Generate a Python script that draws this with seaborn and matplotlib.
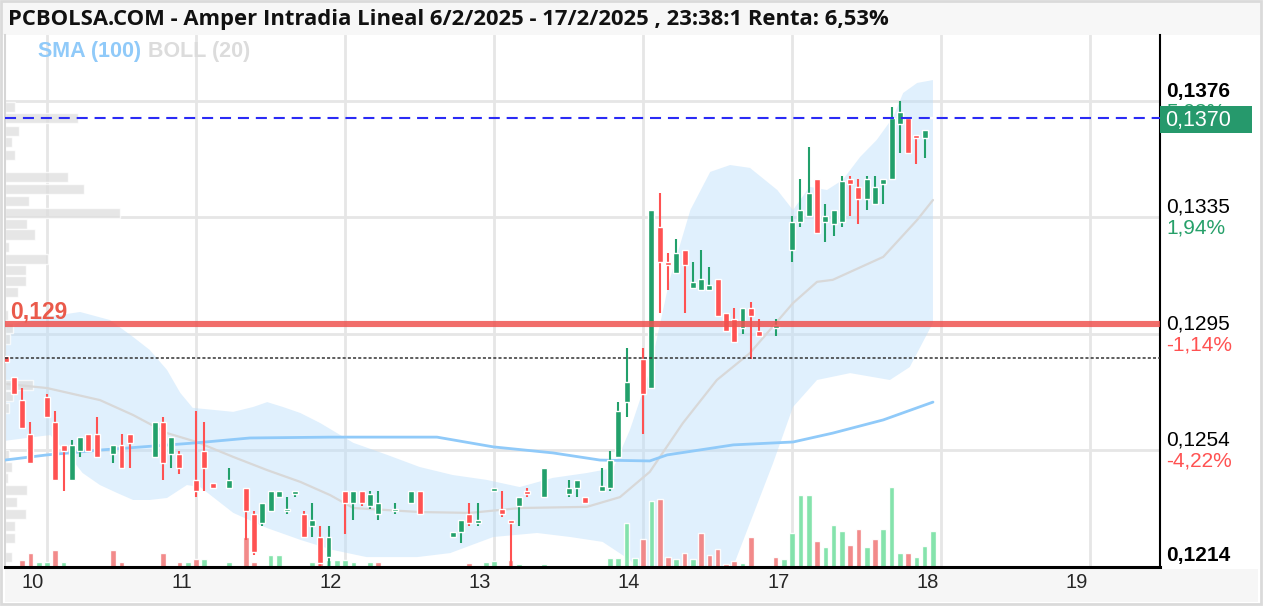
import numpy as np
import matplotlib
matplotlib.use("Agg")
import matplotlib.pyplot as plt
import matplotlib.transforms as mtransforms
from matplotlib.patches import Rectangle
import seaborn as sns

# ------------------------------------------------------------------ data
TITLE = "PCBOLSA.COM - Amper Intradia Lineal 6/2/2025 - 17/2/2025 , 23:38:1 Renta: 6,53%"
day_labels = ["10", "11", "12", "13", "14", "17", "18", "19"]
day_start_slot = [0, 18, 36, 54, 72, 90, 108, 126]   # 18 half-hour slots per session

# candles (slot index, OHLC)
c_slot = [-5, -4, -3, -2, 0, 1, 2, 3, 4, 5, 6, 8, 9, 10, 13, 14, 15, 16, 18, 19, 20, 22,
          24, 25, 26, 27, 28, 29, 30, 31, 32, 33, 34, 36, 37, 38, 39, 40, 42, 44, 45, 49,
          50, 51, 52, 54, 55, 56, 57, 58, 60, 63, 64, 65, 67, 68, 69, 70, 72, 73, 74, 75,
          76, 77, 78, 79, 80, 81, 82, 83, 84, 85, 86, 88, 90, 91, 92, 93, 94, 95, 96, 97,
          98, 99, 100, 101, 102, 103, 104, 105, 106, 107]
c_open = [.1287, .1280, .1272, .1260, .1273, .1264, .1256, .1244, .1254, .1260, .1260, .1253,
          .1256, .1260, .1252, .1264, .1253, .1253, .1244, .1254, .1243, .1241, .1241, .1232,
          .1229, .1233, .1238, .1233, .1239, .1232, .1228, .1224, .1217, .1240, .1236, .1240,
          .1235, .1232, .1233, .1236, .1240, .1224, .1226, .1232, .1229, .1240, .1234, .1230,
          .1235, .1240, .1238, .1239, .1241, .1238, .1240, .1241, .1252, .1271, .1286, .1276,
          .1332, .1320, .1316, .1324, .1311, .1310, .1310, .1314, .1302, .1300, .1297, .1304,
          .1296, .1297, .1324, .1334, .1336, .1349, .1334, .1333, .1334, .1349, .1346, .1342,
          .1340, .1347, .1349, .1368, .1370, .1364, .1363, .1370]
c_high = [.1287, .1280, .1276, .1264, .1274, .1268, .1256, .1258, .1259, .1260, .1266, .1256,
          .1260, .1260, .1264, .1266, .1259, .1254, .1268, .1264, .1243, .1248, .1241, .1233,
          .1236, .1240, .1240, .1238, .1240, .1233, .1236, .1228, .1228, .1240, .1240, .1240,
          .1240, .1240, .1236, .1240, .1240, .1226, .1230, .1236, .1236, .1241, .1240, .1230,
          .1238, .1241, .1248, .1244, .1244, .1238, .1248, .1254, .1271, .1290, .1290, .1338,
          .1344, .1323, .1328, .1324, .1320, .1324, .1318, .1314, .1302, .1304, .1304, .1306,
          .1300, .1300, .1336, .1349, .1360, .1349, .1340, .1338, .1350, .1350, .1349, .1350,
          .1350, .1349, .1374, .1376, .1370, .1364, .1366, .1370]
c_low = [.1285, .1274, .1262, .1250, .1266, .1244, .1240, .1244, .1252, .1254, .1252, .1250,
         .1248, .1248, .1252, .1244, .1248, .1246, .1238, .1240, .1241, .1241, .1223, .1218,
         .1228, .1233, .1238, .1232, .1238, .1224, .1224, .1214, .1214, .1225, .1230, .1235,
         .1234, .1230, .1232, .1236, .1232, .1224, .1222, .1228, .1228, .1240, .1231, .1214,
         .1228, .1238, .1238, .1238, .1238, .1236, .1240, .1240, .1252, .1266, .1260, .1276,
         .1302, .1310, .1316, .1302, .1311, .1310, .1310, .1301, .1296, .1292, .1295, .1286,
         .1294, .1294, .1320, .1332, .1336, .1330, .1327, .1329, .1332, .1336, .1333, .1338,
         .1340, .1340, .1349, .1358, .1358, .1354, .1356, .1370]
c_close = [.1285, .1274, .1262, .1250, .1266, .1244, .1254, .1256, .1259, .1254, .1252, .1256,
           .1248, .1257, .1264, .1250, .1259, .1248, .1240, .1248, .1241, .1244, .1233, .1219,
           .1236, .1240, .1240, .1234, .1240, .1224, .1230, .1215, .1224, .1236, .1240, .1236,
           .1239, .1236, .1234, .1240, .1232, .1226, .1230, .1229, .1230, .1241, .1232, .1229,
           .1238, .1239, .1248, .1241, .1244, .1236, .1242, .1251, .1268, .1278, .1274, .1338,
           .1320, .1319, .1323, .1319, .1313, .1314, .1312, .1301, .1296, .1292, .1304, .1301,
           .1294, .1298, .1334, .1338, .1344, .1330, .1336, .1338, .1348, .1347, .1342, .1349,
           .1346, .1349, .1370, .1372, .1358, .1363, .1366, .1370]

# volume (relative units) per slot, 1 = up bar, 0 = down bar
v_slot = [-3, -2, -1, 0, 1, 2, 8, 9, 14, 16, 17, 18, 19, 22, 24, 25, 27, 28, 32, 33, 34, 35,
          36, 37, 39, 40, 51, 53, 54, 56, 57, 60, 68, 69, 70, 71, 72, 73, 74, 75, 76, 77, 78,
          79, 80, 81, 82, 83, 84, 85, 88, 89, 90, 91, 92, 93, 94, 95, 96, 97, 98, 99, 100,
          101, 102, 103, 104, 105, 106, 107]
v_val = [7, 14, 5, 5, 17, 5, 17, 5, 14, 5, 5, 8, 8, 5, 30, 5, 12, 12, 5, 5, 7, 7,
         7, 5, 5, 5, 4, 5, 6, 7, 3, 3, 9, 9, 44, 9, 28, 66, 68, 10, 8, 14, 8,
         34, 12, 18, 3, 6, 4, 30, 10, 8, 34, 72, 72, 26, 20, 42, 36, 22, 38, 20, 28,
         38, 80, 14, 14, 10, 21, 36]
v_up = [0, 0, 1, 1, 0, 1, 0, 0, 0, 0, 1, 0, 1, 1, 0, 0, 1, 1, 1, 0, 1, 1,
        1, 1, 1, 0, 0, 1, 1, 0, 1, 1, 1, 1, 1, 1, 0, 1, 0, 0, 1, 0, 1,
        0, 0, 0, 0, 0, 1, 0, 0, 1, 1, 1, 1, 0, 1, 1, 1, 0, 0, 1, 0,
        1, 1, 1, 0, 1, 1, 1]

# SMA(100) read points
sma_x = [-5.1, 0, 6.4, 18, 24.5, 34.2, 47.1, 53.9, 61.1, 66.8, 72.8, 74.9, 82.9, 90.1, 94.9, 101, 107]
sma_y = [.12509, .12527, .12544, .12569, .12586, .12589, .12589, .12555, .12534, .12509, .12506,
         .12527, .12562, .12572, .12603, .12649, .12711]

# Bollinger(20) middle / upper / lower read points
bm_x = [-4.8, 0, 6.4, 10.4, 14.5, 18.1, 22.5, 26.6, 30.6, 34.2, 37, 45, 51.1, 57.1, 65.2, 69.2,
        72.8, 76.8, 80.9, 84.9, 90.1, 93, 94.9, 101, 105.1, 107]
bm_y = [.12774, .12760, .12718, .12666, .12603, .12572, .12520, .12474, .12433, .12387, .12342,
        .12328, .12325, .12342, .12346, .12380, .12468, .12638, .12788, .12882, .13056, .13130,
        .13137, .13217, .13346, .13415]
bu_x = [-5.1, -0.8, 4, 7.6, 10.4, 12.4, 14.5, 16.1, 17.6, 22.5, 24.9, 26.6, 28.5, 30.6, 33, 37,
        41.1, 45, 49, 53.1, 57.1, 61.1, 65.2, 68.4, 70.4, 72.8, 75.2, 77.7, 80.1, 82.5, 84.9,
        88.2, 90.1, 92.1, 94.2, 96.1, 98.2, 100.2, 102.2, 103.4, 105.1, 107]
bu_y = [.12976, .13004, .13025, .12997, .12938, .12893, .12823, .12743, .12691, .12677, .12694,
        .12711, .12694, .12673, .12638, .12569, .12527, .12485, .12457, .12440, .12415, .12447,
        .12464, .12481, .12614, .12820, .13137, .13380, .13513, .13537, .13527, .13450, .13380,
        .13461, .13450, .13485, .13565, .13624, .13704, .13788, .13823, .13833]
bl_x = [-5.1, -1.7, 0.4, 2.4, 4.3, 6.4, 8.5, 10.4, 12.4, 14.5, 16.9, 18.5, 20.5, 22.5, 26.6,
        30.6, 34.5, 38.6, 44.7, 48.7, 53.9, 59.2, 63.2, 67.1, 70.4, 72.8, 78.9, 82.9, 87.7,
        90.1, 93, 97, 101.8, 104.2, 107]
bl_y = [.12576, .12589, .12596, .12534, .12464, .12422, .12394, .12370, .12370, .12377, .12422,
        .12415, .12370, .12325, .12272, .12231, .12196, .12171, .12171, .12185, .12241, .12255,
        .12241, .12224, .12161, .12091, .12020, .12140, .12499, .12694, .12788, .12812, .12788,
        .12833, .12987]

# volume-by-price profile (left)
prof_price = [.13739, .13701, .13656, .13616, .13572, .13495, .13454, .13412, .13370, .13333,
              .13295, .13251, .13211, .13170, .13133, .13093, .13015, .12969, .12931, .12771,
              .12732, .12691, .12527, .12485, .12447, .12405, .12363, .12321, .12279, .12239,
              .12170]
prof_vol = [10, 73, 14, 7, 10, 63, 79, 24, 115, 22, 30, 4, 43, 21, 21, 13, 3, 8, 5, 28, 8, 4,
            4, 7, 3, 22, 12, 21, 10, 10, 7]

# reference lines
last_price = 0.1370
last_text = "0,1370"
ref_close = 0.12865
support = 0.12983
support_label = "0,129"

# right axis
axis_ticks = [0.13760, 0.13355, 0.12950, 0.12545, 0.12140]
axis_texts = ["0,1376", "0,1335", "0,1295", "0,1254", "0,1214"]
pct_texts = ["5,03%", "1,94%", "-1,14%", "-4,22%", None]
pct_colors = ["#26a069", "#26a069", "#ff5252", "#ff5252", None]

# ------------------------------------------------------------------ style
sns.set_theme(style="white")
plt.rcParams["font.family"] = ["Liberation Sans", "DejaVu Sans"]

GREEN = "#22a06b"
RED = "#ff5252"
VGREEN = "#7ee2a8"
VRED = "#f28484"

FW, FH = 1264, 608
fig = plt.figure(figsize=(FW / 100, FH / 100), dpi=100)
fig.patch.set_facecolor("white")


def fr(x0, y0, x1, y1):
    """pixel box (top-left origin) -> figure fraction rect"""
    return (x0 / FW, 1 - y1 / FH, (x1 - x0) / FW, (y1 - y0) / FH)


# background bands (behind the axes)
for (x0, y0, x1, y1, fc) in [(1, 1, 1261, 35, "#f7f7f7"), (5, 569, 1258, 602, "#f6f6f6")]:
    l, b, w, h = fr(x0, y0, x1, y1)
    fig.patches.append(Rectangle((l, b), w, h, transform=fig.transFigure, fc=fc, ec="none", zorder=-2))
l, b, w, h = fr(1, 1, 1261, 604)
fig.patches.append(Rectangle((l, b), w, h, transform=fig.transFigure, fill=False, ec="#dadada", lw=2, zorder=-1))

AX_L, AX_T, AX_R, AX_B = 5, 35, 1160, 567
ax = fig.add_axes(fr(AX_L, AX_T, AX_R, AX_B))
ax.set_facecolor("none")

XMIN, XMAX = -5.07, 134.42
YMIN, YMAX = 0.121365, 0.13990

# grid
ax.set_xticks(day_start_slot)
ax.set_yticks(axis_ticks[:-1])
ax.grid(True, color="#e6e6e6", lw=2, zorder=0)
ax.tick_params(left=False, bottom=False, labelleft=False, labelbottom=False)
ax.spines["top"].set_visible(False)
ax.spines["left"].set_color("#d6d6d6")
ax.spines["left"].set_linewidth(1.5)
ax.spines["bottom"].set_color("black")
ax.spines["bottom"].set_linewidth(2.2)
ax.spines["right"].set_color("black")
ax.spines["right"].set_linewidth(1.5)

# Bollinger band fill
poly_x = np.concatenate([bu_x, bl_x[::-1]])
poly_y = np.concatenate([bu_y, bl_y[::-1]])
ax.fill(poly_x, poly_y, fc="#bbdefb", alpha=0.45, ec="none", zorder=1)

# volume profile at left
prof_tr = mtransforms.blended_transform_factory(
    mtransforms.Affine2D().scale(1 / (AX_R - AX_L), 1) + ax.transAxes, ax.transData)
ax.barh(prof_price, prof_vol, height=0.00035, left=0, color="#dedede", alpha=0.75,
        transform=prof_tr, zorder=1.2, align="center")

# volume bars
vol_tr = mtransforms.blended_transform_factory(
    ax.transData, mtransforms.Affine2D().scale(1, 1 / (AX_B - AX_T)) + ax.transAxes)
vcols = [VGREEN if u else VRED for u in v_up]
ax.bar(v_slot, v_val, width=0.68, bottom=0, color=vcols, transform=vol_tr, zorder=2, alpha=0.95)

# SMA / Bollinger mid lines
sns.lineplot(x=bm_x, y=bm_y, ax=ax, color="#d8d8d8", lw=1.6, sort=False, estimator=None, zorder=3)
sns.lineplot(x=sma_x, y=sma_y, ax=ax, color="#90caf9", lw=2.0, sort=False, estimator=None, zorder=3)

# candles
o = np.array(c_open); h = np.array(c_high); lo = np.array(c_low); c = np.array(c_close)
cols = np.where(c >= o, GREEN, RED)
ax.vlines(c_slot, lo, h, colors=cols, lw=1.5, zorder=5)
body_h = np.maximum(np.abs(c - o), 0.00005)
ax.bar(c_slot, body_h, bottom=np.minimum(o, c), width=0.72, color=cols, zorder=6)

# reference lines
ax.axhline(support, color="#ef5350", lw=4.4, alpha=0.85, zorder=7)
ax.axhline(ref_close, color="#333333", lw=1.1, ls=(0, (2, 1.4)), zorder=7)
ax.axhline(last_price, color="#2b2bf5", lw=1.5, ls=(0, (5.3, 3.3)), zorder=7)

ax.set_xlim(XMIN, XMAX)
ax.set_ylim(YMIN, YMAX)

# support label
ax.text(0, support, support_label,
        transform=mtransforms.offset_copy(ax.get_yaxis_transform(), fig, x=5, y=12, units="dots"),
        color="#ea5a4b", fontsize=16.5, fontweight="bold", ha="left", va="center", zorder=8)

# legend text
fig.text(38 / FW, 1 - 52 / FH, "SMA (100)", color="#90caf9", fontsize=15.5, fontweight="bold",
         ha="left", va="center")
fig.text(148 / FW, 1 - 52 / FH, "BOLL (20)", color="#dcdcdc", fontsize=15.5, fontweight="bold",
         ha="left", va="center")

# title
fig.text(8 / FW, 1 - 19 / FH, TITLE, fontsize=15.8, fontweight="bold", family=["Open Sans", "DejaVu Sans"],
         ha="left", va="center", color="#111111")

# x labels
xtr = mtransforms.offset_copy(mtransforms.blended_transform_factory(ax.transData, ax.transAxes),
                              fig, x=-14, y=-16, units="dots")
for s, lab in zip(day_start_slot, day_labels):
    ax.text(s, 0, lab, transform=xtr, ha="center", va="center", fontsize=14.5,
            family=["Liberation Sans Narrow", "Liberation Sans", "DejaVu Sans"], clip_on=False)

# right axis labels
ytr = ax.get_yaxis_transform()
for i, (v, t) in enumerate(zip(axis_ticks, axis_texts)):
    bold = i in (0, len(axis_ticks) - 1)
    ax.text(1.0, v, t, transform=mtransforms.offset_copy(ytr, fig, x=6, y=10, units="dots"),
            ha="left", va="center", fontsize=15, fontweight="bold" if bold else "normal",
            color="black", clip_on=False)
    if pct_texts[i]:
        ax.text(1.0, v, pct_texts[i], transform=mtransforms.offset_copy(ytr, fig, x=6, y=-11, units="dots"),
                ha="left", va="center", fontsize=15, color=pct_colors[i], clip_on=False, zorder=2)

# last-price box
l, b, w, h = fr(1160, 106, 1252, 133)
fig.patches.append(Rectangle((l, b), w, h, transform=fig.transFigure, fc="#26996c", ec="none", zorder=5))
fig.text(1165 / FW, 1 - 120 / FH, last_text, ha="left", va="center", fontsize=15.5,
         color="white", zorder=10)

fig.savefig("out.png", dpi=100)
